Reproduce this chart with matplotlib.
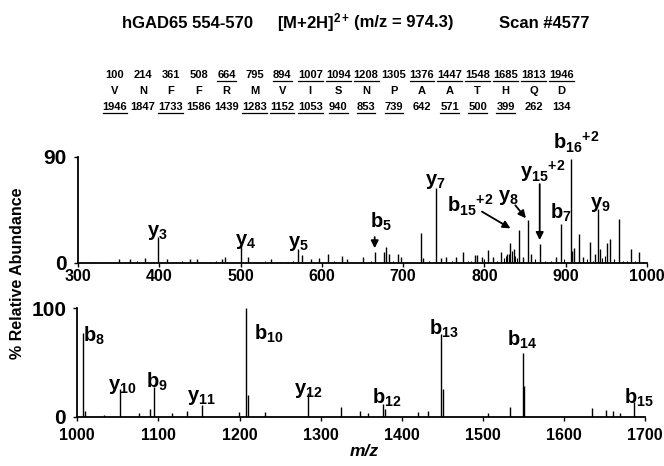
import matplotlib
matplotlib.use('Agg')
import matplotlib.pyplot as plt
from matplotlib.lines import Line2D

plt.rcParams['font.family'] = ['Liberation Sans', 'DejaVu Sans']
plt.rcParams['font.weight'] = 'bold'
plt.rcParams['mathtext.fontset'] = 'custom'
plt.rcParams['mathtext.rm'] = 'Liberation Sans:bold'
plt.rcParams['mathtext.bf'] = 'Liberation Sans:bold'
plt.rcParams['mathtext.it'] = 'Liberation Sans:bold:italic'

# sequence table (b ions, residues, y ions); 1 = observed (underlined)
b_ions = [100, 214, 361, 508, 664, 795, 894, 1007, 1094, 1208, 1305, 1376, 1447, 1548, 1685, 1813, 1946]
residues = ['V', 'N', 'F', 'F', 'R', 'M', 'V', 'I', 'S', 'N', 'P', 'A', 'A', 'T', 'H', 'Q', 'D']
y_ions = [1946, 1847, 1733, 1586, 1439, 1283, 1152, 1053, 940, 853, 739, 642, 571, 500, 399, 262, 134]
b_seen = [0, 0, 0, 0, 1, 0, 1, 1, 1, 1, 0, 1, 1, 1, 1, 1, 1]
y_seen = [1, 0, 1, 0, 0, 1, 1, 1, 1, 1, 1, 0, 1, 1, 1, 0, 0]

# spectrum, m/z 300-1000
top_mz = [351, 364, 382, 399, 409, 438, 447, 477, 481, 500, 509, 538, 571, 575, 587, 596, 607, 625,
          631, 651, 665, 676, 679, 682, 694, 697, 722, 725, 741, 747, 753, 765, 774, 789, 791, 797,
          804, 811, 820, 828, 832, 836, 843, 848, 853, 857, 868, 888, 894, 906, 908, 910, 916, 921,
          930, 936, 940, 942, 951, 955, 966, 980, 990]
top_int = [3.4, 3, 4, 22, 3, 3.5, 3, 3, 5, 15, 5, 3, 11.5, 7, 3, 4, 8, 6,
           3, 5, 9.6, 9.5, 14, 8, 8, 5, 25.7, 4, 63.4, 4, 5, 5, 9, 7, 7, 5,
           11, 5, 9, 8, 17, 12, 28, 5, 36.5, 8, 16, 5, 33, 88.5, 10, 13, 25, 5,
           18, 8, 45.5, 12, 17, 20, 37, 12, 9]
top_noise_mz = [320, 335, 372, 392, 420, 428, 456, 463, 470, 492, 520, 530, 548, 556, 565, 615, 640,
                660, 688, 705, 712, 732, 760, 780, 784, 800, 815, 824, 826, 830, 834, 838, 840, 862,
                875, 882, 898, 926, 933, 945, 948, 960, 970, 975, 985, 995]
top_noise_int = [1, 1, 1.5, 1, 1, 1.5, 1, 1, 1.5, 1, 1, 1.5, 1, 1, 2, 1.5, 1,
                 2, 1.5, 1, 1, 1.5, 2, 1.5, 2, 3, 2, 4, 6, 8, 10, 6, 4, 3,
                 2, 2, 3, 3, 2, 4, 6, 3, 2, 2, 1.5, 1]

# spectrum, m/z 1000-1700
bot_mz = [1007, 1009, 1033, 1053, 1076, 1090, 1095, 1117, 1135, 1154, 1199, 1208, 1210, 1231, 1284,
          1325, 1349, 1358, 1377, 1379, 1420, 1432, 1449, 1451, 1507, 1533, 1549, 1551, 1635, 1652,
          1660, 1669, 1687]
bot_int = [77, 5, 2, 26, 3, 7, 27, 3.5, 5, 11, 4, 100, 20, 4.5, 21.6,
           9, 5, 3.5, 11.4, 7, 4.5, 5, 76, 26, 3, 9, 58.5, 28, 8, 6,
           5, 3.5, 14]

# fragment labels: (m/z, height, text)
top_labels = [(385, 23, r'$\mathbf{y}_{\mathbf{3}}$'), (493, 15, r'$\mathbf{y}_{\mathbf{4}}$'),
              (558, 14, r'$\mathbf{y}_{\mathbf{5}}$'), (659, 30, r'$\mathbf{b}_{\mathbf{5}}$'),
              (727, 66, r'$\mathbf{y}_{\mathbf{7}}$'), (754, 42.5, r'${\mathbf{b}_{\mathbf{15}}}^{\mathbf{+2}}$'),
              (817, 52.5, r'$\mathbf{y}_{\mathbf{8}}$'), (844, 72, r'${\mathbf{y}_{\mathbf{15}}}^{\mathbf{+2}}$'),
              (884, 96, r'${\mathbf{b}_{\mathbf{16}}}^{\mathbf{+2}}$'), (881, 38, r'$\mathbf{b}_{\mathbf{7}}$'),
              (930, 47, r'$\mathbf{y}_{\mathbf{9}}$')]
top_arrows = [((665, 22), (665, 12.5)), ((797, 43.6), (832, 29.4)),
              ((838, 49), (851, 38)), ((868, 67), (868, 19.5))]
bot_labels = [(1007, 69, r'$\mathbf{b}_{\mathbf{8}}$'), (1038, 25, r'$\mathbf{y}_{\mathbf{10}}$'),
              (1085, 27, r'$\mathbf{b}_{\mathbf{9}}$'), (1135, 14.5, r'$\mathbf{y}_{\mathbf{11}}$'),
              (1218, 71, r'$\mathbf{b}_{\mathbf{10}}$'), (1267, 20.7, r'$\mathbf{y}_{\mathbf{12}}$'),
              (1363, 12.3, r'$\mathbf{b}_{\mathbf{12}}$'), (1434, 76, r'$\mathbf{b}_{\mathbf{13}}$'),
              (1530, 65.6, r'$\mathbf{b}_{\mathbf{14}}$'), (1674, 12.3, r'$\mathbf{b}_{\mathbf{15}}$')]

W, H = 664, 466
fig = plt.figure(figsize=(W / 100, H / 100), dpi=100)


def px(x, y):
    return x / W, 1 - y / H


def style(ax, xlim, ytop, pad):
    ax.set_xlim(xlim)
    ax.set_ylim(0, ytop)
    for s in ['top', 'right']:
        ax.spines[s].set_visible(False)
    for s in ['left', 'bottom']:
        ax.spines[s].set_linewidth(1.3)
    ax.set_xticks(range(xlim[0], xlim[1] + 1, 100))
    ax.set_yticks([0, ytop])
    ax.tick_params(axis='x', direction='out', length=3, width=1, labelsize=11.5, pad=pad)
    ax.tick_params(axis='y', direction='out', length=3, width=1, labelsize=15, pad=5)
    for lab in ax.get_xticklabels() + ax.get_yticklabels():
        lab.set_fontweight('bold')


ax1 = fig.add_axes([78 / W, 1 - 263 / H, 569 / W, 106 / H])
ax1.vlines(top_noise_mz, 0, top_noise_int, color='black', lw=0.8)
ax1.vlines(top_mz, 0, top_int, color='black', lw=1.0)
style(ax1, (300, 1000), 90, 1)
for mz, h, s in top_labels:
    ax1.text(mz, h, s, fontsize=14.5, ha='left', va='baseline', clip_on=False)
for start, end in top_arrows:
    ax1.annotate('', xy=end, xytext=start, annotation_clip=False,
                 arrowprops=dict(arrowstyle='-|>', color='black', lw=1.3, mutation_scale=11,
                                 shrinkA=0, shrinkB=0))

ax2 = fig.add_axes([77.3 / W, 1 - 416.7 / H, 567.7 / W, 108.4 / H])
ax2.vlines(bot_mz, 0, bot_int, color='black', lw=1.0)
style(ax2, (1000, 1700), 100, 5)
for mz, h, s in bot_labels:
    ax2.text(mz, h, s, fontsize=14.5, ha='left', va='baseline', clip_on=False)

# title
for x, s in [(122, 'hGAD65 554-570'), (277, r'[M+2H]$^{\mathbf{2+}}$'),
             (354, '(m/z = 974.3)'), (499, 'Scan #4577')]:
    fig.text(*px(x, 23), s, fontsize=12, fontweight='bold', ha='left', va='center')

# sequence table
cells = []
for i in range(len(residues)):
    x = 115 + 27.9 * i
    t1 = fig.text(*px(x, 75), str(b_ions[i]), fontsize=8, fontweight='bold', ha='center', va='center')
    fig.text(*px(x, 91), residues[i], fontsize=8, fontweight='bold', ha='center', va='center')
    t3 = fig.text(*px(x, 107), str(y_ions[i]), fontsize=8, fontweight='bold', ha='center', va='center')
    cells.append((t1, b_seen[i]))
    cells.append((t3, y_seen[i]))

fig.canvas.draw()
renderer = fig.canvas.get_renderer()
for t, seen in cells:
    if seen:
        bb = t.get_window_extent(renderer).transformed(fig.transFigure.inverted())
        yline = bb.y0 - 0.8 / H
        fig.add_artist(Line2D([bb.x0, bb.x1], [yline, yline], color='black', lw=0.9,
                              transform=fig.transFigure))

fig.text(18 / W, 1 - 273 / H, '% Relative Abundance', rotation=90, fontsize=11.5,
         fontweight='bold', ha='center', va='center')
fig.text(364 / W, 1 - 451 / H, 'm/z', fontsize=12.5, fontweight='bold', style='italic',
         ha='center', va='center')

fig.savefig('out.png', dpi=100)
